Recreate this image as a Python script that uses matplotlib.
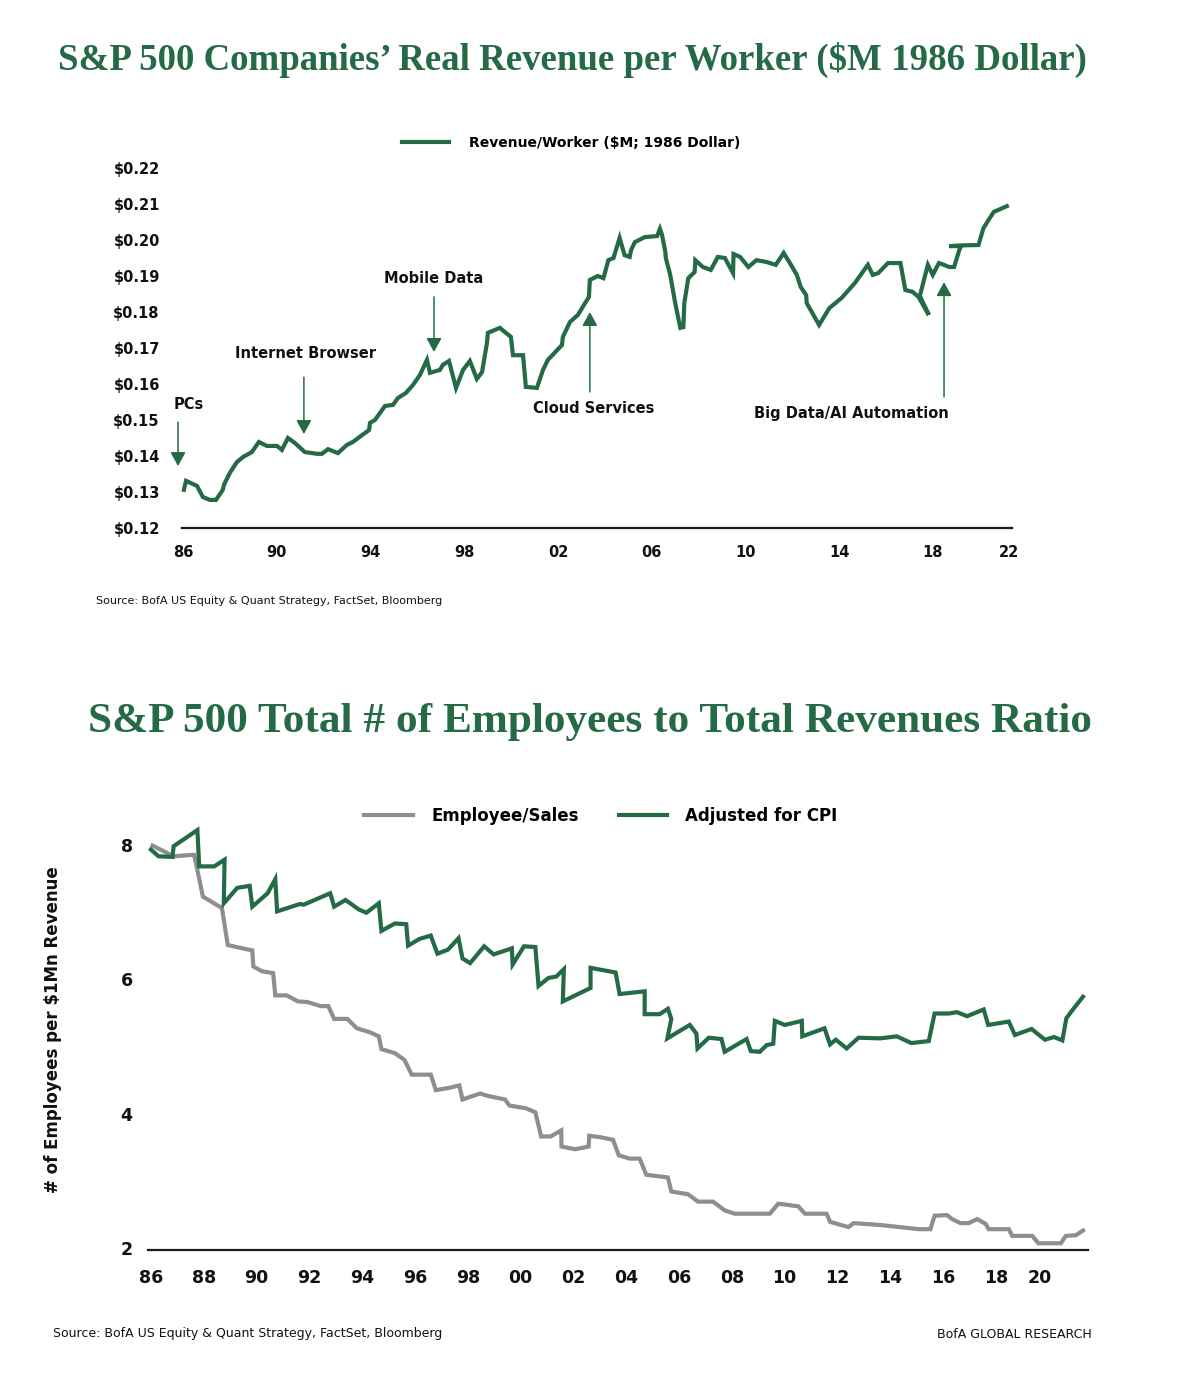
import matplotlib
matplotlib.use('Agg')
import matplotlib.pyplot as plt
from matplotlib.lines import Line2D

W, H = 1200, 1391
GREEN = '#246B45'
GRAY = '#8D8E92'
DARK = '#111111'
SANS = ['DejaVu Sans']
SLAB = ['Liberation Serif', 'DejaVu Serif']

# ---------------- data: chart 1 ----------------
rev_years = [1986.04, 1986.13, 1986.60, 1986.85, 1987.15, 1987.41, 1987.70, 1987.75, 1988.00, 1988.30,
             1988.56, 1988.94, 1989.24, 1989.58, 1990.01, 1990.22, 1990.48, 1990.78, 1991.20, 1991.72,
             1991.93, 1992.19, 1992.61, 1993.00, 1993.25, 1993.64, 1993.94, 1993.98, 1994.19, 1994.62,
             1994.96, 1995.17, 1995.51, 1995.81, 1996.11, 1996.41, 1996.54, 1996.96, 1997.09, 1997.35,
             1997.65, 1997.95, 1998.24, 1998.54, 1998.76, 1998.97, 1999.01, 1999.52, 1999.74, 1999.99,
             2000.08, 2000.51, 2000.63, 2001.10, 2001.36, 2001.57, 2001.96, 2002.17, 2002.21, 2002.51,
             2002.85, 2003.32, 2003.36, 2003.70, 2003.94, 2004.15, 2004.37, 2004.63, 2004.84, 2005.06,
             2005.12, 2005.28, 2005.70, 2006.23, 2006.35, 2006.44, 2006.58, 2006.60, 2006.79, 2007.00,
             2007.22, 2007.35, 2007.39, 2007.56, 2007.83, 2007.86, 2008.18, 2008.52, 2008.82, 2009.12,
             2009.47, 2009.49, 2009.77, 2010.12, 2010.47, 2010.89, 2011.29, 2011.63, 2011.94, 2012.19,
             2012.36, 2012.59, 2012.61, 2013.14, 2013.58, 2014.10, 2014.66, 2015.22, 2015.43, 2015.66,
             2016.08, 2016.61, 2016.82, 2017.13, 2017.38, 2017.82, 2017.44, 2017.78, 2017.99, 2018.25,
             2018.47, 2018.68, 2018.90, 2019.12, 2019.20, 2018.70, 2019.20, 2019.94, 2020.15, 2020.59,
             2021.15]
rev_values = [0.1306, 0.1331, 0.1317, 0.1286, 0.1278, 0.1278, 0.1306, 0.1320, 0.1353, 0.1383,
              0.1397, 0.1411, 0.1439, 0.1428, 0.1428, 0.1417, 0.1450, 0.1436, 0.1411, 0.1406,
              0.1406, 0.1419, 0.1408, 0.1431, 0.1439, 0.1458, 0.1472, 0.1492, 0.1500, 0.1539,
              0.1542, 0.1561, 0.1575, 0.1597, 0.1625, 0.1667, 0.1631, 0.1639, 0.1653, 0.1664,
              0.1589, 0.1639, 0.1664, 0.1614, 0.1633, 0.1714, 0.1742, 0.1756, 0.1744, 0.1731,
              0.1680, 0.1680, 0.1592, 0.1589, 0.1639, 0.1667, 0.1694, 0.1708, 0.1731, 0.1772,
              0.1792, 0.1842, 0.1889, 0.1900, 0.1894, 0.1944, 0.1950, 0.2006, 0.1958, 0.1953,
              0.1972, 0.1994, 0.2008, 0.2011, 0.2031, 0.2014, 0.1967, 0.1950, 0.1903, 0.1825,
              0.1756, 0.1758, 0.1825, 0.1894, 0.1911, 0.1944, 0.1925, 0.1917, 0.1953, 0.1950,
              0.1908, 0.1961, 0.1953, 0.1925, 0.1944, 0.1939, 0.1931, 0.1964, 0.1931, 0.1903,
              0.1869, 0.1847, 0.1825, 0.1764, 0.1811, 0.1839, 0.1880, 0.1931, 0.1903, 0.1908,
              0.1936, 0.1936, 0.1861, 0.1856, 0.1842, 0.1792, 0.1845, 0.1931, 0.1903, 0.1936,
              0.1931, 0.1925, 0.1925, 0.1972, 0.1983, 0.1983, 0.1985, 0.1986, 0.2033, 0.2078,
              0.2094]

top_xtick_years = [1986, 1990, 1994, 1998, 2002, 2006, 2010, 2014, 2018, 2021.25]
top_xtick_labels = ['86', '90', '94', '98', '02', '06', '10', '14', '18', '22']
top_ytick_values = [0.12, 0.13, 0.14, 0.15, 0.16, 0.17, 0.18, 0.19, 0.20, 0.21, 0.22]
top_ytick_labels = ['$0.12', '$0.13', '$0.14', '$0.15', '$0.16', '$0.17', '$0.18',
                    '$0.19', '$0.20', '$0.21', '$0.22']

ann_labels = ['PCs', 'Internet Browser', 'Mobile Data', 'Cloud Services', 'Big Data/AI Automation']
ann_arrow_x = [1985.79, 1991.16, 1996.71, 2003.36, 2018.47]
ann_arrow_from = [0.1494, 0.1619, 0.1842, 0.1578, 0.1564]
ann_arrow_to = [0.1372, 0.1461, 0.1689, 0.1800, 0.1883]
ann_text_x = [1986.26, 1991.21, 1996.71, 2003.54, 2014.51]
ann_text_y = [0.1544, 0.1686, 0.1892, 0.1531, 0.1519]

# ---------------- data: chart 2 ----------------
emp_years = [1986.06, 1986.86, 1987.54, 1987.64, 1987.97, 1988.69, 1988.91, 1989.34, 1989.84, 1989.88,
             1990.20, 1990.63, 1990.71, 1991.14, 1991.57, 1991.93, 1992.43, 1992.72, 1992.94, 1993.44,
             1993.80, 1994.30, 1994.63, 1994.73, 1995.24, 1995.60, 1995.88, 1996.60, 1996.79, 1997.25,
             1997.68, 1997.80, 1998.47, 1998.69, 1999.41, 1999.58, 2000.20, 2000.56, 2000.78, 2001.14,
             2001.54, 2001.55, 2002.07, 2002.58, 2002.60, 2003.01, 2003.50, 2003.72, 2004.13, 2004.51,
             2004.76, 2005.58, 2005.71, 2006.34, 2006.72, 2007.29, 2007.73, 2008.11, 2009.44, 2009.76,
             2010.52, 2010.77, 2011.59, 2011.72, 2012.42, 2012.61, 2013.68, 2015.08, 2015.52, 2015.68,
             2016.15, 2016.34, 2016.66, 2016.97, 2017.29, 2017.61, 2017.73, 2018.49, 2018.62, 2019.38,
             2019.61, 2020.46, 2020.65, 2021.03, 2021.30]
emp_values = [7.99, 7.83, 7.85, 7.85, 7.23, 7.06, 6.51, 6.47, 6.43, 6.19,
              6.12, 6.09, 5.76, 5.76, 5.67, 5.66, 5.60, 5.60, 5.41, 5.41,
              5.27, 5.21, 5.15, 4.96, 4.90, 4.80, 4.58, 4.58, 4.35, 4.38,
              4.42, 4.21, 4.30, 4.27, 4.21, 4.12, 4.08, 4.02, 3.66, 3.66,
              3.75, 3.51, 3.47, 3.51, 3.67, 3.65, 3.61, 3.38, 3.33, 3.33,
              3.09, 3.05, 2.84, 2.80, 2.69, 2.69, 2.56, 2.51, 2.51, 2.66,
              2.62, 2.51, 2.51, 2.39, 2.31, 2.37, 2.34, 2.28, 2.28, 2.48,
              2.49, 2.43, 2.37, 2.37, 2.43, 2.36, 2.28, 2.28, 2.18, 2.18,
              2.07, 2.07, 2.18, 2.19, 2.26]

cpi_years = [1986.00, 1986.29, 1986.82, 1986.86, 1987.76, 1987.83, 1988.40, 1988.79, 1988.76, 1989.27,
             1989.74, 1989.84, 1990.42, 1990.71, 1990.78, 1991.64, 1991.79, 1992.79, 1992.94, 1993.37,
             1993.87, 1994.16, 1994.63, 1994.73, 1995.24, 1995.67, 1995.74, 1996.17, 1996.60, 1996.85,
             1997.25, 1997.65, 1997.80, 1998.09, 1998.62, 1998.98, 1999.67, 1999.70, 2000.13, 2000.56,
             2000.68, 2001.06, 2001.35, 2001.64, 2001.60, 2002.65, 2002.65, 2003.60, 2003.75, 2004.70,
             2004.70, 2005.27, 2005.58, 2005.71, 2005.56, 2006.41, 2006.66, 2006.70, 2007.13, 2007.61,
             2007.73, 2008.56, 2008.72, 2009.06, 2009.32, 2009.57, 2009.63, 2010.01, 2010.65, 2010.67,
             2011.51, 2011.72, 2011.94, 2012.35, 2012.80, 2013.62, 2014.25, 2014.80, 2015.46, 2015.68,
             2016.22, 2016.53, 2016.91, 2017.54, 2017.71, 2018.49, 2018.72, 2019.35, 2019.86, 2020.20,
             2020.52, 2020.67, 2020.90, 2021.30]
cpi_values = [7.93, 7.83, 7.82, 7.98, 8.22, 7.68, 7.68, 7.78, 7.13, 7.36,
              7.39, 7.08, 7.28, 7.49, 7.01, 7.12, 7.11, 7.28, 7.08, 7.18,
              7.04, 6.99, 7.13, 6.72, 6.83, 6.82, 6.50, 6.60, 6.65, 6.38,
              6.44, 6.61, 6.31, 6.24, 6.49, 6.37, 6.46, 6.22, 6.49, 6.48,
              5.90, 6.02, 6.04, 6.15, 5.67, 5.87, 6.17, 6.10, 5.78, 5.82,
              5.48, 5.48, 5.56, 5.41, 5.12, 5.32, 5.19, 4.97, 5.13, 5.11,
              4.92, 5.11, 4.93, 4.92, 5.02, 5.04, 5.38, 5.32, 5.38, 5.15,
              5.27, 5.03, 5.10, 4.97, 5.13, 5.12, 5.15, 5.05, 5.08, 5.49,
              5.49, 5.51, 5.45, 5.55, 5.32, 5.37, 5.17, 5.26, 5.10, 5.14,
              5.09, 5.42, 5.54, 5.74]

bot_xtick_years = [1986, 1988, 1990, 1992, 1994, 1996, 1998, 2000, 2002, 2004,
                   2006, 2008, 2010, 2012, 2014, 2016, 2018, 2019.67]
bot_xtick_labels = ['86', '88', '90', '92', '94', '96', '98', '00', '02', '04',
                    '06', '08', '10', '12', '14', '16', '18', '20']
bot_ytick_values = [2, 4, 6, 8]
bot_ytick_labels = ['2', '4', '6', '8']

# ---------------- figure ----------------
fig = plt.figure(figsize=(W / 100, H / 100), dpi=100)
fig.patch.set_facecolor('white')
renderer = fig.canvas.get_renderer()


def fx(px):
    return px / W


def fy(py):
    return 1 - py / H


def fit_title(x_px, y_px, text, left_px, right_px, size0):
    t = fig.text(fx(x_px), fy(y_px), text, ha='center', va='center', fontsize=size0,
                 fontweight='bold', color=GREEN, family=SLAB)
    w = t.get_window_extent(renderer=renderer).width
    t.set_fontsize(size0 * (right_px - left_px) / w)
    return t


def style_axes(ax, fs, xpad, ypad):
    for s in ['top', 'right', 'left']:
        ax.spines[s].set_visible(False)
    ax.spines['bottom'].set_color('#1a1a1a')
    ax.spines['bottom'].set_linewidth(1.6)
    ax.tick_params(axis='both', length=0, labelsize=fs, colors=DARK)
    ax.tick_params(axis='x', pad=xpad)
    ax.tick_params(axis='y', pad=ypad)
    for lab in ax.get_xticklabels() + ax.get_yticklabels():
        lab.set_fontweight('bold')
        lab.set_family(SANS)
    ax.set_facecolor('none')


# Title 1
fit_title((57 + 1088) / 2, 60, 'S\u0026P 500 Companies\u2019 Real Revenue per Worker ($M 1986 Dollar)',
          57, 1088, 26)

# Chart 1
ax1 = fig.add_axes([fx(182), fy(528), fx(830), 360 / H])
ax1.plot(rev_years, rev_values, color=GREEN, lw=3.0, solid_joinstyle='miter', clip_on=False)
ax1.set_xlim(1985.96, 2021.37)
ax1.set_ylim(0.12, 0.22)
ax1.set_xticks(top_xtick_years)
ax1.set_xticklabels(top_xtick_labels)
ax1.set_yticks(top_ytick_values)
ax1.set_yticklabels(top_ytick_labels)
style_axes(ax1, 10.5, 12, 16)

for lab, x, y0, y1, tx, ty in zip(ann_labels, ann_arrow_x, ann_arrow_from, ann_arrow_to,
                                   ann_text_x, ann_text_y):
    ax1.annotate('', xy=(x, y1), xytext=(x, y0), annotation_clip=False,
                 arrowprops=dict(arrowstyle='-|>,head_length=0.6,head_width=0.33',
                                 mutation_scale=14, color=GREEN, lw=1.1,
                                 shrinkA=0, shrinkB=0))
    ax1.text(tx, ty, lab, ha='center', va='center', fontsize=10.5, fontweight='bold',
             color=DARK, family=SANS, clip_on=False)

h1 = [Line2D([], [], color=GREEN, lw=3.0)]
fig.legend(h1, ['Revenue/Worker ($M; 1986 Dollar)'], loc='center',
           bbox_to_anchor=(fx(571), fy(143)), frameon=False,
           prop=dict(family=SANS, weight='bold', size=10),
           handlelength=3.4, handletextpad=1.4, borderpad=0)

fig.text(fx(96), fy(601), 'Source: BofA US Equity \u0026 Quant Strategy, FactSet, Bloomberg',
         ha='left', va='center', fontsize=8, color=DARK, family=SANS)

# Title 2
fit_title((88 + 1092) / 2, 722, 'S\u0026P 500 Total # of Employees to Total Revenues Ratio',
          88, 1092, 28)

# Chart 2
ax2 = fig.add_axes([fx(148), fy(1250), fx(940), 432 / H])
ax2.plot(emp_years, emp_values, color=GRAY, lw=3.0, solid_joinstyle='miter', clip_on=False)
ax2.plot(cpi_years, cpi_values, color=GREEN, lw=3.0, solid_joinstyle='miter', clip_on=False)
ax2.set_xlim(1985.89, 2021.49)
ax2.set_ylim(1.97, 8.4)
ax2.set_xticks(bot_xtick_years)
ax2.set_xticklabels(bot_xtick_labels)
ax2.set_yticks(bot_ytick_values)
ax2.set_yticklabels(bot_ytick_labels)
style_axes(ax2, 12.5, 14, 11)

fig.text(fx(53), fy(1030), '# of Employees per $1Mn Revenue', rotation=90,
         ha='center', va='center', fontsize=12, fontweight='bold', color=DARK, family=SANS)

h2 = [Line2D([], [], color=GRAY, lw=3.0), Line2D([], [], color=GREEN, lw=3.0)]
fig.legend(h2, ['Employee/Sales', 'Adjusted for CPI'], loc='center', ncol=2,
           bbox_to_anchor=(fx(601), fy(816)), frameon=False,
           prop=dict(family=SANS, weight='bold', size=12),
           handlelength=2.9, handletextpad=1.1, columnspacing=2.4, borderpad=0)

fig.text(fx(53), fy(1334), 'Source: BofA US Equity \u0026 Quant Strategy, FactSet, Bloomberg',
         ha='left', va='center', fontsize=9, color=DARK, family=SANS)
fig.text(fx(1092), fy(1334), 'BofA GLOBAL RESEARCH',
         ha='right', va='center', fontsize=9, color=DARK, family=SANS)

fig.savefig('out.png', dpi=100, facecolor='white')
